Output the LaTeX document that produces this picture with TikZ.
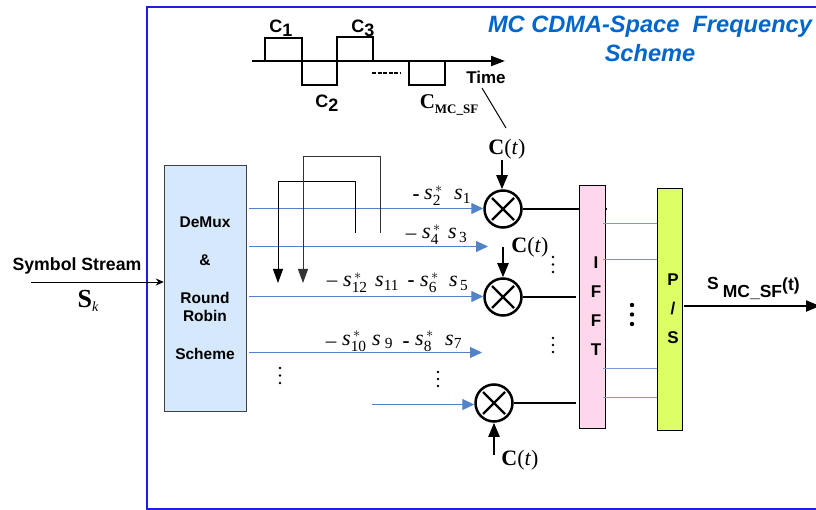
\documentclass[tikz,border=0pt]{standalone}
\usepackage{amsmath}
\usepackage{fontspec}
\setmainfont{Liberation Sans}
\newfontfamily\timesfont{Liberation Serif}
\usepackage{tikz}
\usetikzlibrary{arrows.meta}
\definecolor{frameblue}{RGB}{30, 30, 235}
\definecolor{titleblue}{RGB}{0, 102, 204}
\definecolor{feedblue}{RGB}{82, 130, 200}
\definecolor{demuxfill}{RGB}{214, 232, 252}
\definecolor{ifftfill}{RGB}{255, 215, 236}
\definecolor{psfill}{RGB}{220, 255, 102}
\tikzset{
    blockbox/.style={draw, inner sep=0pt, align=center, font=\fontsize{17}{29}\selectfont\bfseries},
    mixer/.style={draw, circle, line width=2.5pt, minimum size=37pt, inner sep=0pt, path picture={
        \draw[line width=2.2pt] (path picture bounding box.center) ++(-11,-11) -- ++(22,22);
        \draw[line width=2.2pt] (path picture bounding box.center) ++(-11,11) -- ++(22,-22);}},
    feedline/.style={feedblue, line width=1pt, -{Triangle[length=12pt,width=11pt]}},
    plainfeed/.style={feedblue!80, line width=1pt},
    heavyline/.style={line width=2.2pt},
    heavyarrow/.style={line width=2.2pt, -{Triangle[length=14pt,width=11pt]}},
    swapline/.style={line width=1pt, -{Triangle[length=14pt,width=10pt]}},
    symb/.style={anchor=base west, inner sep=0pt, font=\timesfont\fontsize{22}{26}\selectfont},
    dashmark/.style={inner sep=0pt, font=\timesfont\fontsize{21}{25}\selectfont},
    codelabel/.style={inner sep=0pt, font=\timesfont\fontsize{22}{26}\selectfont},
    chiplabel/.style={inner sep=0pt, font=\fontsize{18}{20}\selectfont\bfseries},
}
\begin{document}
\begin{tikzpicture}[x=1pt, y=-1pt]
    \useasboundingbox (0,0) rectangle (816,510);

    % Frame
    \draw[frameblue, line width=1.5pt] (820,7) -- (147,7) -- (147,509) -- (820,509);

    % Title
    \node[titleblue, inner sep=0pt, font=\fontsize{23.6}{28}\selectfont\bfseries\itshape] (title1) at (650,27) {MC CDMA-Space\ \ Frequency};
    \node[titleblue, inner sep=0pt, font=\fontsize{23.6}{28}\selectfont\bfseries\itshape] (title2) at (650,53) {Scheme};

    % Spreading code waveform
    \coordinate (AxisStart) at (252,61);
    \coordinate (AxisEnd) at (505,61);
    \draw[line width=2pt] (265,61) -- (265,38) -- (302,38) -- (302,85) -- (337,85) -- (337,37) -- (373,37) -- (373,61);
    \draw[line width=2pt] (409,61) -- (409,85) -- (445,85) -- (445,61);
    \draw[heavyline, -{Triangle[length=14pt,width=10pt]}] (AxisStart) -- (AxisEnd);
    \draw[line width=2.5pt, dash pattern=on 4pt off 1.5pt] (372,73) -- (401,73);
    \node[chiplabel] (chip1) at (281,28) {C\raisebox{-4pt}{1}};
    \node[chiplabel] (chip3) at (363,28) {C\raisebox{-4pt}{3}};
    \node[chiplabel] (chip2) at (327,103) {C\raisebox{-4pt}{2}};
    \node[inner sep=0pt, font=\timesfont\fontsize{21}{25}\selectfont\bfseries] (chiplast) at (449,105) {C\raisebox{-5pt}{\fontsize{13}{15}\selectfont MC\_SF}};
    \node[inner sep=0pt, font=\fontsize{17}{19}\selectfont\bfseries] (time) at (486,77) {Time};

    % Code inputs
    \node[codelabel] (ct1) at (507,149) {\textbf{C}(\textit{t})};
    \node[codelabel] (ct2) at (530,247) {\textbf{C}(\textit{t})};
    \node[codelabel] (ct3) at (520,460) {\textbf{C}(\textit{t})};
    \coordinate (TimeLink) at (482,88);
    \coordinate (CodeLink) at (506,128);
    \draw[line width=1pt] (TimeLink) -- (CodeLink);

    % Mixers
    \node[mixer] (mix1) at (503,209) {};
    \node[mixer] (mix2) at (503,297) {};
    \node[mixer] (mix3) at (494,403) {};
    \coordinate (Ct1Top) at (502,160);
    \coordinate (Ct2Top) at (503,247);
    \coordinate (Ct3Bot) at (494,455);
    \draw[heavyarrow] (Ct1Top) -- (Ct1Top |- mix1.north);
    \draw[heavyarrow] (Ct2Top) -- (mix2.north);
    \draw[heavyarrow] (Ct3Bot) -- (mix3.south);

    % Mixer outputs go under the IFFT block
    \coordinate (Out1) at (607,209);
    \draw[heavyline] (mix1.east) -- (Out1);

    % Blocks
    \node[blockbox, fill=demuxfill, draw=black!75, minimum width=82pt, minimum height=246pt, font=\fontsize{15.5}{18}\selectfont\bfseries] (demux) at (205,288.5) {DeMux\\[20pt]\&\\[20pt]Round\\Robin\\[20pt]Scheme};
    \node[blockbox, fill=ifftfill, minimum width=26pt, minimum height=243pt] (ifft) at (592,306.5) {\hspace*{8pt}I\\\hspace*{8pt}F\\\hspace*{8pt}F\\\hspace*{8pt}T};
    \node[blockbox, fill=psfill, minimum width=25pt, minimum height=242pt] (ps) at (669.5,309) {\hspace*{7pt}P\\\hspace*{7pt}/\\\hspace*{7pt}S};
    \draw[heavyline, shorten >=3pt] (mix2.east) -- (ifft.west |- mix2.east);
    \draw[heavyline, shorten >=3pt] (mix3.east) -- (ifft.west |- mix3.east);

    % Symbol stream input
    \coordinate (StreamStart) at (31,282);
    \draw[line width=0.9pt, -{Stealth[length=8pt,width=7pt]}] (StreamStart) -- (demux.west |- StreamStart);
    \node[inner sep=0pt, font=\fontsize{17.7}{20}\selectfont\bfseries] (stream) at (77,266) {Symbol Stream};
    \node[inner sep=0pt, font=\timesfont\fontsize{26}{30}\selectfont] (sk) at (88,301) {\textbf{S}\raisebox{-4pt}{\fontsize{14}{16}\selectfont\textit{k}}};

    % Branch feeds
    \coordinate (Feed1) at (249,208.5);
    \coordinate (Feed2) at (249,246.5);
    \coordinate (Feed3) at (249,296.5);
    \coordinate (Feed4) at (249,352.5);
    \coordinate (Feed5) at (372,404.5);
    \coordinate (Feed2End) at (488,246.5);
    \coordinate (Feed4End) at (482,352.5);
    \draw[feedline] (Feed1) -- (mix1.west |- Feed1);
    \draw[feedline] (Feed2) -- (Feed2End);
    \draw[feedline] (Feed3) -- (mix2.west |- Feed3);
    \draw[feedline] (Feed4) -- (Feed4End);
    \draw[feedline] (Feed5) -- (mix3.west |- Feed5);

    % Swapped symbols
    \coordinate (Swap1Start) at (355,233);
    \coordinate (Swap1End) at (278,283);
    \coordinate (Swap2Start) at (380,233);
    \coordinate (Swap2End) at (303,283);
    \draw[swapline] (Swap1Start) -- (355,182) -- (278,182) -- (Swap1End);
    \draw[swapline, black!80] (Swap2Start) -- (380,157) -- (303,157) -- (Swap2End);

    % Symbols on the branches
    \node[dashmark] (dash2) at (416,198) {\textbf{-}};
    \node[symb] (s2) at (424,200) {\textit{s}$_{\text{2}}^{\,*}$};
    \node[symb] (s1) at (454,200) {\textit{s}$_{\text{1}}$};
    \node[dashmark] (dash4) at (411,237) {\textendash};
    \node[symb] (s4) at (422,239) {\textit{s}$_{\text{4}}^{\,*}$};
    \node[symb] (s3) at (448,239) {\textit{s}$_{\,\text{3}}$};
    \node[dashmark] (dash12) at (332,284) {\textendash};
    \node[symb] (s12) at (343,287) {\textit{s}$_{\text{12}}^{\,*}$};
    \node[symb] (s11) at (375,287) {\textit{s}$_{\text{11}}$};
    \node[dashmark] (dash6) at (411,284) {\textbf{-}};
    \node[symb] (s6) at (420,287) {\textit{s}$_{\text{6}}^{\,*}$};
    \node[symb] (s5) at (449,287) {\textit{s}$_{\,\text{5}}$};
    \node[dashmark] (dash10) at (331,345) {\textendash};
    \node[symb] (s10) at (342,345) {\textit{s}$_{\text{10}}^{\,*}$};
    \node[symb] (s9) at (372,345) {\textit{s}$_{\;\text{9}}$};
    \node[dashmark] (dash8) at (406,345) {\textbf{-}};
    \node[symb] (s8) at (415,345) {\textit{s}$_{\text{8}}^{\,*}$};
    \node[symb] (s7) at (445,345) {\textit{s}$_{\text{7}}$};

    % IFFT to P/S
    \coordinate (Sub1) at (603,224);
    \coordinate (Sub2) at (603,260);
    \coordinate (Sub3) at (603,368);
    \coordinate (Sub4) at (603,397);
    \draw[plainfeed] (Sub1) -- (ps.west |- Sub1);
    \draw[plainfeed] (Sub2) -- (ps.west |- Sub2);
    \draw[plainfeed] (Sub3) -- (ps.west |- Sub3);
    \draw[plainfeed] (Sub4) -- (ps.west |- Sub4);

    % Output
    \coordinate (OutEnd) at (820,306);
    \coordinate (OutStart) at (684,306);
    \draw[heavyarrow] (OutStart) -- (OutEnd);
    \node[inner sep=0pt, anchor=base west, font=\fontsize{17.5}{20}\selectfont\bfseries] (output) at (707,290) {S\hspace{4pt}\raisebox{-8pt}{MC\_SF}\raisebox{-1pt}{(t)}};

    % Continuation dots
    \fill (553,257) circle (1.4) (553,264.5) circle (1.4) (553,272) circle (1.4);
    \fill (553,338) circle (1.4) (553,345) circle (1.4) (553,352) circle (1.4);
    \fill (438,372) circle (1.4) (438,379) circle (1.4) (438,386) circle (1.4);
    \fill (280,368) circle (1.4) (280,375.5) circle (1.4) (280,383) circle (1.4);
    \fill (632,305) circle (2.2) (632,314.5) circle (2.2) (632,324) circle (2.2);
\end{tikzpicture}
\end{document}
